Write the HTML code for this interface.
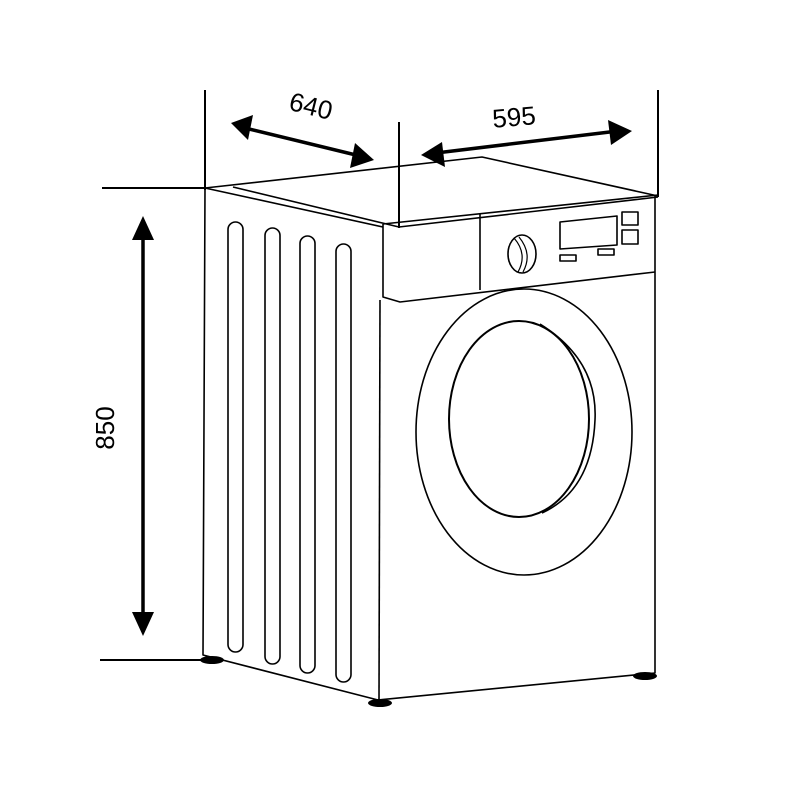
<!DOCTYPE html>
<html><head><style>html,body{margin:0;padding:0;background:#fff}svg{display:block}</style></head>
<body>
<svg width="800" height="800" viewBox="0 0 800 800" xmlns="http://www.w3.org/2000/svg">
<g fill="none" stroke="#000" stroke-width="1.6" stroke-linejoin="round">
<line x1="205" y1="90" x2="205" y2="190" stroke-width="2"/>
<line x1="399" y1="122" x2="399" y2="228" stroke-width="2"/>
<line x1="658" y1="90" x2="658" y2="197" stroke-width="2"/>
<line x1="102" y1="188" x2="205" y2="188" stroke-width="2"/>
<line x1="100" y1="660" x2="205" y2="660" stroke-width="2"/>
<path d="M205,188 L482,157 L658,196"/>
<path d="M205,188 L383,227"/>
<path d="M233,187 L399,227"/>
<path d="M383,224 L658,195"/>
<path d="M399,227 L658,197"/>
<path d="M383,224 L383,297 L400,302 L655,272"/>
<line x1="480" y1="214" x2="480" y2="290"/>
<ellipse cx="522" cy="254" rx="14" ry="19"/>
<path d="M514,238 Q528,254 518,272" stroke-width="1.2"/>
<path d="M519,237 Q533,254 523,272" stroke-width="1.2"/>
<path d="M560,222 L617,216 L617,245 L560,249 Z"/>
<rect x="622" y="212" width="16" height="13"/>
<rect x="622" y="230" width="16" height="14"/>
<rect x="560" y="255" width="16" height="6"/>
<rect x="598" y="249" width="16" height="6"/>
<path d="M205,188 L203,655 L378,700 L655,673 L655,196"/>
<line x1="380" y1="300" x2="379" y2="700"/>
<rect x="228" y="222" width="15" height="430" rx="7.5"/>
<rect x="265" y="228" width="15" height="436" rx="7.5"/>
<rect x="300" y="236" width="15" height="437" rx="7.5"/>
<rect x="336" y="244" width="15" height="438" rx="7.5"/>
<ellipse cx="524" cy="432" rx="108" ry="143"/>
<ellipse cx="519" cy="419" rx="70" ry="98" stroke-width="2"/>
<path d="M540,324 Q598,360 595,420 Q592,490 542,513"/>
</g>
<g fill="#000">
<ellipse cx="212" cy="660" rx="12" ry="4"/>
<ellipse cx="380" cy="703" rx="12" ry="4"/>
<ellipse cx="645" cy="676" rx="12" ry="4"/>
</g>
<g stroke="#000" stroke-width="3.5" fill="#000">
<line x1="143" y1="235" x2="143" y2="618"/>
<line x1="245" y1="128" x2="360" y2="156"/>
<line x1="436" y1="153" x2="618" y2="131"/>
</g>
<g fill="#000">
<polygon points="143,216 132,240 154,240"/>
<polygon points="143,636 132,612 154,612"/>
<polygon points="231,123 253,115 248,140"/>
<polygon points="374,160 350,168 355,143"/>
<polygon points="421,155 442,142 445,167"/>
<polygon points="632,131 611,145 608,120"/>
</g>
<g font-family="'Liberation Sans', sans-serif" font-size="26" fill="#000" text-anchor="middle">
<text x="311" y="115" transform="rotate(14 311 106)">640</text>
<text x="514" y="126" transform="rotate(-5 514 117)">595</text>
<text x="105" y="437" transform="rotate(-90 105 428)">850</text>
</g>
</svg>
</body></html>
